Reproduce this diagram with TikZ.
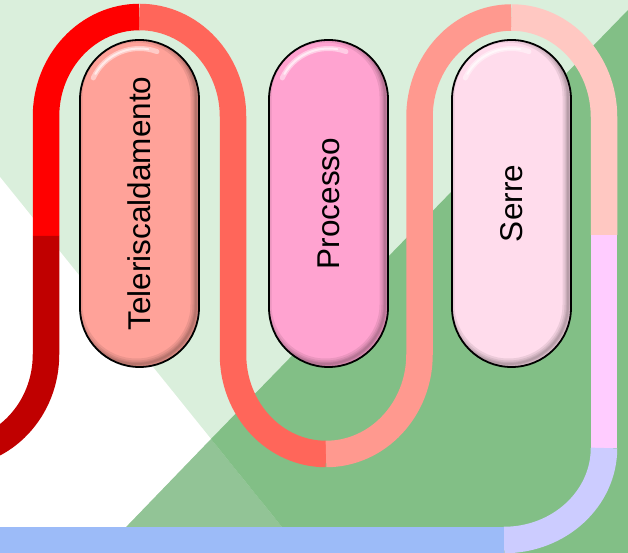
\documentclass[tikz,border=0pt]{standalone}
\usepackage{fontspec}
\setmainfont{Liberation Sans}
\definecolor{bgLight}{HTML}{DAEFDC}
\definecolor{bgDark}{HTML}{82BF86}
\definecolor{bgMid}{HTML}{92C496}
\definecolor{cRed}{HTML}{FF0000}
\definecolor{cDarkRed}{HTML}{C00000}
\definecolor{cSalmon}{HTML}{FF665A}
\definecolor{cLightSalmon}{HTML}{FF998F}
\definecolor{cPale}{HTML}{FFC8C2}
\definecolor{cPink}{HTML}{FFCCFF}
\definecolor{cLavender}{HTML}{CCCCFF}
\definecolor{cBlue}{HTML}{9CBBF8}
\definecolor{pTele}{HTML}{FFA299}
\definecolor{pProc}{HTML}{FFA3D0}
\definecolor{pSerre}{HTML}{FFDCEC}
\begin{document}
\begin{tikzpicture}[x=1pt,y=1pt,
  pipe/.style={line width=26.5pt, line cap=butt},
  pill/.style={draw=black, line width=1.8pt, rounded corners=59.4pt,
    minimum width=119pt, minimum height=327pt, inner sep=0pt,
    font=\fontsize{31.5}{31.5}\selectfont, text=black,
    path picture={
      \foreach \w in {2,4,7,11}{
        \draw[black, opacity=0.08, line width=\w pt, rounded corners=59.4pt]
          ([shift={(-3pt,3pt)}]path picture bounding box.south west) rectangle
          ([shift={(-3pt,3pt)}]path picture bounding box.north east);
      }
      \draw[white, opacity=0.45, line width=5pt, line cap=round]
        ([yshift=-59.5pt]path picture bounding box.north) ++(155:51pt)
        arc[start angle=155, end angle=70, radius=51pt];
      \draw[white, opacity=0.6, line width=2pt, line cap=round]
        ([yshift=-59.5pt]path picture bounding box.north) ++(150:51pt)
        arc[start angle=150, end angle=80, radius=51pt];
    }}]
\useasboundingbox (0,0) rectangle (628,553);
\clip (0,0) rectangle (628,553);
% background
\fill[bgLight] (0,0) rectangle (628,553);
\fill[white] (0,376) -- (211,114) -- (101,0) -- (0,0) -- cycle;
\fill[bgMid] (211,114) -- (303,0) -- (101,0) -- cycle;
\fill[bgDark] (211,114) -- (303,0) -- (628,0) -- (628,543) -- cycle;
% pipes
\draw[pipe, cRed] (139.5,536) arc[start angle=90, end angle=180, x radius=93.5, y radius=99.5] -- (46,317);
\draw[pipe, cDarkRed] (46,317) -- (46,198.5) arc[start angle=0, end angle=-90, x radius=93.5, y radius=99.5];
\draw[pipe, cSalmon] (139.5,536) arc[start angle=90, end angle=0, x radius=93.5, y radius=99.5]
  -- (233,198.5) arc[start angle=180, end angle=270, x radius=93, y radius=99.5];
\draw[pipe, cLightSalmon] (326,99) arc[start angle=270, end angle=360, x radius=93.5, y radius=99.5]
  -- (419.5,436) arc[start angle=180, end angle=90, x radius=92, y radius=99.5];
\draw[pipe, cPale] (511.5,535.5) arc[start angle=90, end angle=0, x radius=92.5, y radius=99.5] -- (604,318);
\draw[pipe, cPink] (604,318) -- (604,105);
\draw[pipe, cLavender] (604,105) arc[start angle=0, end angle=-90, x radius=100, y radius=92];
\draw[pipe, cBlue] (504,13) -- (-2,13);
% pills
\node[pill, fill=pTele] (tele) at (139.5,349.5) {\rotatebox{90}{Teleriscaldamento}};
\node[pill, fill=pProc] (proc) at (328.5,349.5) {\rotatebox{90}{Processo}};
\node[pill, fill=pSerre] (serre) at (511.5,349.5) {\rotatebox{90}{Serre}};
\end{tikzpicture}
\end{document}
